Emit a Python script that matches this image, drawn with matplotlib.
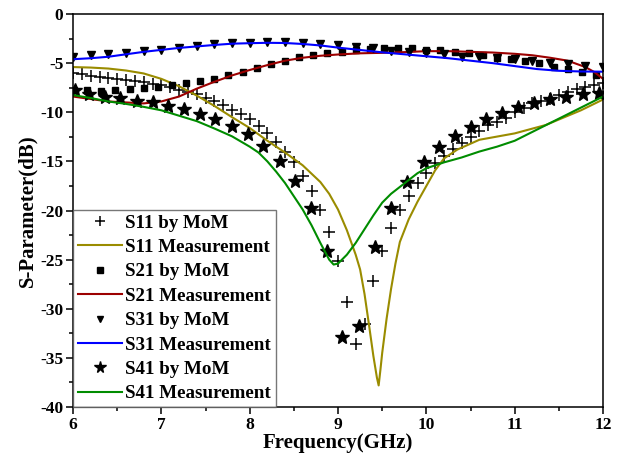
import matplotlib
matplotlib.use("Agg")
import matplotlib.pyplot as plt
from matplotlib.ticker import MultipleLocator

plt.rcParams['font.family'] = ['Liberation Serif', 'DejaVu Serif']
plt.rcParams['font.weight'] = 'bold'
plt.rcParams['axes.unicode_minus'] = False

# ---- S11 by MoM (crosses) ----
f_s11_mom = [6.0, 6.1, 6.2, 6.3, 6.4, 6.5, 6.6, 6.7, 6.8, 6.9, 7.0, 7.1, 7.2, 7.3, 7.4, 7.5,
             7.6, 7.7, 7.8, 7.9, 8.0, 8.1, 8.2, 8.3, 8.4, 8.5, 8.6, 8.7, 8.8, 8.9, 9.0, 9.1,
             9.2, 9.3, 9.4, 9.5, 9.6, 9.7, 9.8, 9.9, 10.0, 10.1, 10.2, 10.3, 10.4, 10.5, 10.6,
             10.7, 10.8, 10.9, 11.0, 11.1, 11.2, 11.3, 11.4, 11.5, 11.6, 11.7, 11.8, 11.9, 12.0]
s11_mom = [-6.0, -6.15, -6.3, -6.4, -6.5, -6.65, -6.75, -6.85, -6.95, -7.1, -7.25, -7.45, -7.7,
           -7.9, -8.15, -8.5, -8.9, -9.3, -9.75, -10.2, -10.7, -11.4, -12.1, -13.0, -14.0, -15.1,
           -16.5, -18.0, -19.9, -22.2, -25.1, -29.3, -33.6, -31.5, -27.2, -24.1, -21.75, -19.95,
           -18.5, -17.2, -16.2, -15.2, -14.45, -13.75, -13.1, -12.5, -11.9, -11.3, -10.95, -10.6,
           -10.0, -9.6, -9.1, -8.9, -8.65, -8.25, -7.9, -7.65, -7.4, -7.2, -7.0]

# ---- S11 Measurement ----
f_s11_meas = [6.0, 6.2, 6.4, 6.6, 6.8, 7.0, 7.2, 7.4, 7.6, 7.8, 8.0, 8.2, 8.4, 8.6, 8.8, 8.9,
              9.0, 9.1, 9.2, 9.25, 9.3, 9.35, 9.4, 9.44, 9.46, 9.48, 9.5, 9.55, 9.6, 9.65, 9.7,
              9.8, 9.9, 10.0, 10.1, 10.2, 10.35, 10.6, 11.0, 11.35, 11.75, 12.0]
s11_meas = [-5.4, -5.45, -5.55, -5.75, -6.05, -6.6, -7.35, -8.3, -9.35, -10.5, -11.6, -12.9,
            -14.1, -15.4, -17.1, -18.3, -19.9, -22.0, -24.5, -26.0, -28.5, -31.6, -34.8, -37.0,
            -37.8, -36.2, -34.5, -31.0, -28.0, -25.4, -23.2, -20.9, -19.1, -17.5, -15.9, -14.7,
            -13.8, -12.8, -12.15, -11.3, -9.8, -8.7]

# ---- S21 by MoM (squares) ----
f_s21_mom = [6.01, 6.16, 6.32, 6.48, 6.64, 6.80, 6.96, 7.12, 7.28, 7.44, 7.60, 7.76, 7.92, 8.08,
             8.24, 8.40, 8.56, 8.72, 8.88, 9.04, 9.20, 9.36, 9.52, 9.68, 9.84, 10.0, 10.16, 10.32,
             10.48, 10.64, 10.80, 10.96, 11.12, 11.28, 11.44, 11.60, 11.76, 11.92]
s21_mom = [-7.74, -7.74, -7.8, -7.74, -7.67, -7.56, -7.45, -7.23, -7.06, -6.82, -6.6, -6.2,
           -5.87, -5.46, -5.12, -4.78, -4.41, -4.17, -3.94, -3.83, -3.7, -3.56, -3.5, -3.45,
           -3.5, -3.62, -3.7, -3.85, -3.95, -4.2, -4.45, -4.6, -4.78, -5.0, -5.35, -5.6, -5.87, -6.2]

# ---- S21 Measurement ----
f_s21_meas = [6.0, 6.2, 6.4, 6.6, 6.8, 7.0, 7.2, 7.4, 7.6, 7.8, 8.0, 8.2, 8.4, 8.6, 8.8, 9.0,
              9.25, 9.5, 9.75, 10.0, 10.25, 10.5, 10.75, 11.0, 11.2, 11.4, 11.6, 11.8, 11.9, 12.0]
s21_meas = [-8.4, -8.65, -8.9, -9.0, -9.1, -8.9, -8.4, -7.6, -6.9, -6.25, -5.7, -5.2, -4.75,
            -4.45, -4.25, -4.12, -4.0, -3.95, -3.88, -3.78, -3.78, -3.85, -3.92, -4.05, -4.2,
            -4.45, -4.75, -5.4, -5.9, -6.6]

# ---- S31 by MoM (down triangles) ----
f_s31_mom = [6.0, 6.2, 6.4, 6.6, 6.8, 7.0, 7.2, 7.4, 7.6, 7.8, 8.0, 8.2, 8.4, 8.6, 8.8, 9.0,
             9.2, 9.4, 9.6, 9.8, 10.0, 10.2, 10.4, 10.6, 10.8, 11.0, 11.2, 11.4, 11.6, 11.8, 12.0]
s31_mom = [-4.38, -4.17, -4.07, -3.97, -3.77, -3.66, -3.46, -3.26, -3.05, -2.95, -2.95, -2.85,
           -2.85, -2.95, -3.05, -3.16, -3.36, -3.5, -3.73, -3.85, -3.95, -4.1, -4.34, -4.41,
           -4.5, -4.6, -4.78, -4.95, -5.12, -5.26, -5.36]

# ---- S31 Measurement ----
f_s31_meas = [6.0, 6.2, 6.4, 6.6, 6.8, 7.0, 7.2, 7.4, 7.6, 7.8, 8.0, 8.2, 8.4, 8.6, 8.8, 9.0,
              9.25, 9.5, 9.75, 10.0, 10.25, 10.5, 10.75, 11.0, 11.25, 11.5, 11.75, 12.0]
s31_meas = [-4.6, -4.5, -4.35, -4.1, -3.85, -3.65, -3.45, -3.3, -3.15, -3.02, -2.97, -2.93,
            -2.95, -3.05, -3.2, -3.42, -3.66, -3.9, -4.1, -4.3, -4.5, -4.75, -5.0, -5.3, -5.6,
            -5.78, -5.85, -5.87]

# ---- S41 by MoM (stars) ----
f_s41_mom = [6.02, 6.18, 6.36, 6.53, 6.72, 6.90, 7.08, 7.26, 7.44, 7.61, 7.80, 7.98, 8.15, 8.34,
             8.51, 8.69, 8.88, 9.05, 9.24, 9.42, 9.60, 9.78, 9.97, 10.14, 10.32, 10.50, 10.68,
             10.86, 11.04, 11.22, 11.40, 11.58, 11.77, 11.95]
s41_mom = [-7.74, -8.17, -8.41, -8.58, -8.82, -8.99, -9.33, -9.7, -10.18, -10.69, -11.37, -12.24,
           -13.43, -14.93, -16.97, -19.7, -24.1, -32.9, -31.8, -23.75, -19.7, -17.07, -15.1,
           -13.57, -12.42, -11.47, -10.69, -10.11, -9.5, -9.09, -8.68, -8.41, -8.17, -8.0]

# ---- S41 Measurement ----
f_s41_meas = [6.0, 6.2, 6.4, 6.6, 6.8, 7.0, 7.2, 7.4, 7.6, 7.8, 8.0, 8.1, 8.2, 8.3, 8.4, 8.5,
              8.6, 8.7, 8.8, 8.9, 8.95, 9.0, 9.1, 9.2, 9.3, 9.4, 9.5, 9.6, 9.7, 9.8, 9.9, 10.0,
              10.2, 10.4, 10.6, 10.8, 11.0, 11.2, 11.4, 11.6, 11.8, 12.0]
s41_meas = [-8.25, -8.55, -8.9, -9.15, -9.45, -9.8, -10.35, -10.9, -11.65, -12.45, -13.5, -14.1,
            -15.0, -16.05, -17.2, -18.55, -19.9, -21.5, -23.3, -25.0, -25.5, -25.4, -24.5, -23.3,
            -21.9, -20.5, -19.2, -18.3, -17.6, -16.9, -16.2, -15.7, -15.1, -14.6, -14.0, -13.5,
            -12.9, -12.0, -11.1, -10.2, -9.3, -8.4]

fig = plt.figure(figsize=(6.30, 4.61), dpi=100)
ax = fig.add_axes([0.1159, 0.1171, 0.8413, 0.8525])

lw = 1.5
ax.plot(f_s11_mom, s11_mom, linestyle='none', marker='+', color='black', markersize=8,
        markeredgewidth=1.1, label='S11 by MoM')
ax.plot(f_s11_meas, s11_meas, color='#9a8c00', linewidth=lw, label='S11 Measurement')
ax.plot(f_s21_mom, s21_mom, linestyle='none', marker='s', color='black', markersize=4.5,
        label='S21 by MoM')
ax.plot(f_s21_meas, s21_meas, color='#9c0000', linewidth=lw, label='S21 Measurement')
ax.plot(f_s31_mom, s31_mom, linestyle='none', marker='v', color='black', markersize=5.5,
        label='S31 by MoM')
ax.plot(f_s31_meas, s31_meas, color='#0000ff', linewidth=lw, label='S31 Measurement')
ax.plot(f_s41_mom, s41_mom, linestyle='none', marker='*', color='black', markersize=10,
        label='S41 by MoM')
ax.plot(f_s41_meas, s41_meas, color='#008c00', linewidth=lw, label='S41 Measurement')

ax.set_xlim(6, 12)
ax.set_ylim(-40, 0)
ax.xaxis.set_major_locator(MultipleLocator(1))
ax.xaxis.set_minor_locator(MultipleLocator(0.5))
ax.yaxis.set_major_locator(MultipleLocator(5))
ax.yaxis.set_minor_locator(MultipleLocator(2.5))
ax.tick_params(which='both', direction='out', top=False, right=False, width=1.1)
ax.tick_params(which='major', length=5, labelsize=12.5, pad=2)
ax.tick_params(which='minor', length=3)
for lab in ax.get_xticklabels() + ax.get_yticklabels():
    lab.set_fontweight('bold')
for sp in ax.spines.values():
    sp.set_linewidth(1.1)

ax.set_xlabel('Frequency(GHz)', fontsize=15, fontweight='bold', labelpad=0)
ax.set_ylabel('S-Parameter(dB)', fontsize=15, fontweight='bold', labelpad=2)

leg = ax.legend(loc='lower left', bbox_to_anchor=(0, 0), borderaxespad=0,
                prop={'size': 13.7, 'weight': 'bold'}, frameon=True, fancybox=False,
                edgecolor='#555555', handlelength=2.3, handletextpad=0.2,
                labelspacing=0.37, borderpad=0.25, markerscale=0.85)
leg.get_frame().set_linewidth(1.0)

fig.savefig('out.png', dpi=100)
